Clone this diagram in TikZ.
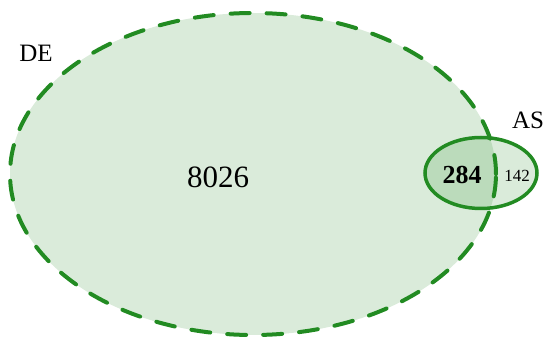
\documentclass[tikz,border=0pt]{standalone}
\usepackage{fontspec}
\setmainfont{Liberation Serif}
\usetikzlibrary{shapes.geometric}
\definecolor{setgreen}{RGB}{34,139,34}
\tikzset{
  setfill/.style={ellipse, inner sep=0pt, fill=setgreen, fill opacity=0.17, draw=none},
  setborder/.style={ellipse, inner sep=0pt, draw=setgreen, fill=none},
  bigborder/.style={setborder, line width=4pt, line cap=round, dash pattern=on 19pt off 17pt},
  smallborder/.style={setborder, line width=3.5pt},
  setlabel/.style={inner sep=0pt, font=\fontsize{25}{28}\selectfont},
}
\begin{document}
\begin{tikzpicture}[x=1pt, y=-1pt]
  \useasboundingbox (0,0) rectangle (547,339);
  % filled regions
  \node[setfill, minimum width=486pt, minimum height=322pt] (deFill) at (253,174) {};
  \node[setfill, minimum width=112pt, minimum height=71pt] (asFill) at (481,173) {};
  % outlines
  \node[bigborder, minimum width=486pt, minimum height=322pt] (de) at (253,174) {};
  \node[smallborder, minimum width=112pt, minimum height=71pt] (as) at (481,173) {};
  % counts
  \node[inner sep=0pt, font=\fontsize{31}{34}\selectfont] (onlyDE) at (218,177) {8026};
  \node[inner sep=0pt, font=\fontsize{26}{30}\selectfont\bfseries] (both) at (462,175) {284};
  \node[inner sep=0pt, font=\fontsize{17}{20}\selectfont] (onlyAS) at (517,176) {142};
  % set names
  \node[setlabel] (deName) at (36,53) {DE};
  \node[setlabel] (asName) at (528,120) {AS};
\end{tikzpicture}
\end{document}
